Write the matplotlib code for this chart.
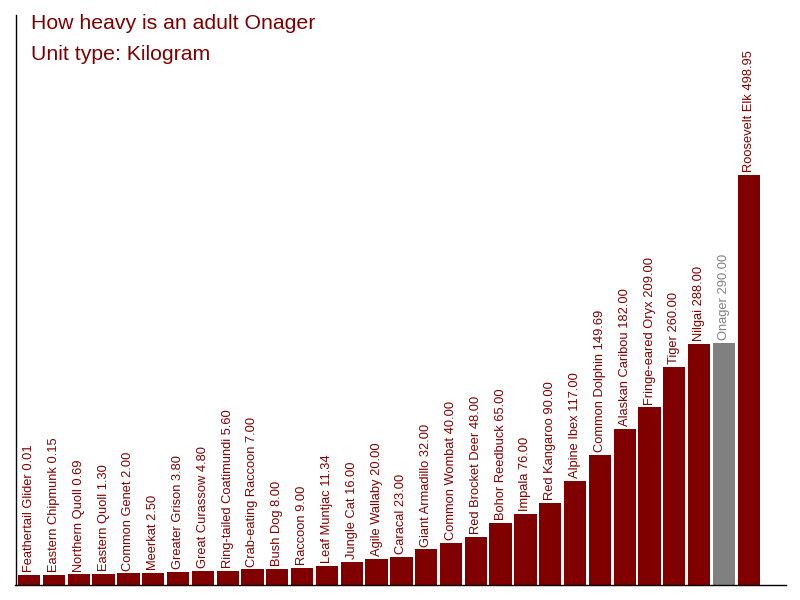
import matplotlib
matplotlib.use("Agg")
import matplotlib.pyplot as plt

names = ["Feathertail Glider", "Eastern Chipmunk", "Northern Quoll", "Eastern Quoll",
         "Common Genet", "Meerkat", "Greater Grison", "Great Curassow",
         "Ring-tailed Coatimundi", "Crab-eating Raccoon", "Bush Dog", "Raccoon",
         "Leaf Muntjac", "Jungle Cat", "Agile Wallaby", "Caracal", "Giant Armadillo",
         "Common Wombat", "Red Brocket Deer", "Bohor Reedbuck", "Impala",
         "Red Kangaroo", "Alpine Ibex", "Common Dolphin", "Alaskan Caribou",
         "Fringe-eared Oryx", "Tiger", "Nilgai", "Onager", "Roosevelt Elk"]
weights = [0.01, 0.15, 0.69, 1.30, 2.00, 2.50, 3.80, 4.80, 5.60, 7.00, 8.00, 9.00,
           11.34, 16.00, 20.00, 23.00, 32.00, 40.00, 48.00, 65.00, 76.00, 90.00,
           117.00, 149.69, 182.00, 209.00, 260.00, 288.00, 290.00, 498.95]
highlight = "Onager"
title_lines = ["How heavy is an adult Onager", "Unit type: Kilogram"]

plt.rcParams['font.family'] = ['Liberation Sans', 'DejaVu Sans']

fig = plt.figure(figsize=(8, 6), dpi=100)
ax = fig.add_axes([15.5/800, 15/600, (786-15.5)/800, 570/600])

vmax = max(weights)
ymin = -0.025 * vmax
ymax = 1.4 * vmax
maroon = '#800000'
grey = '#808080'
x = list(range(len(names)))
colors = [grey if n == highlight else maroon for n in names]
ax.bar(x, [w - ymin for w in weights], bottom=ymin, width=0.9, color=colors)
for i, (n, w, c) in enumerate(zip(names, weights, colors)):
    ax.annotate(f"{n} {w:.2f}", xy=(i, w), xytext=(0, 2), textcoords='offset points',
                rotation=90, ha='center', va='bottom', fontsize=9.3, color=c)

ax.set_xlim(-0.55, 30.5)
ax.set_ylim(ymin, ymax)
ax.set_xticks([])
ax.set_yticks([])
for s in ['top', 'right']:
    ax.spines[s].set_visible(False)
for s in ['left', 'bottom']:
    ax.spines[s].set_color('black')
    ax.spines[s].set_linewidth(1)

fig.text(31/800, 1 - 29/600, title_lines[0], fontsize=15.3, color=maroon, va='baseline')
fig.text(31/800, 1 - 60/600, title_lines[1], fontsize=15.3, color=maroon, va='baseline')

fig.savefig("out.png", dpi=100)
